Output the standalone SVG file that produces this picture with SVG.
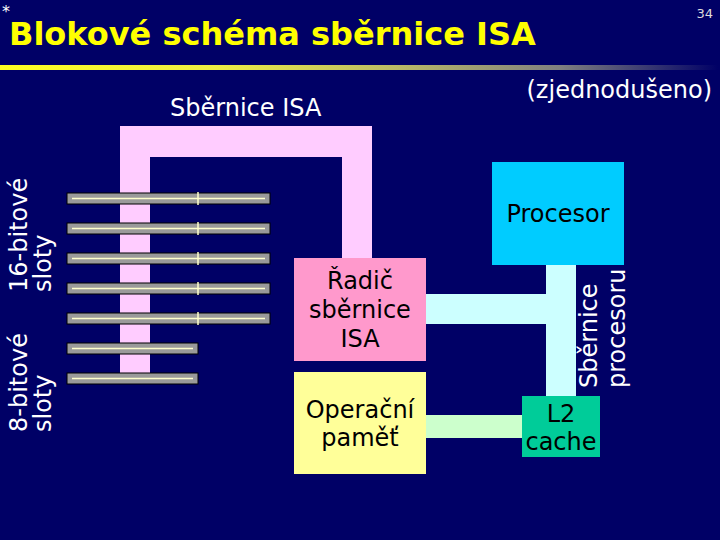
<svg xmlns="http://www.w3.org/2000/svg" width="720" height="540" viewBox="0 0 720 540">
<defs>
<linearGradient id="rule" x1="0" y1="0" x2="1" y2="0">
<stop offset="0" stop-color="#ffff22"/>
<stop offset="0.3" stop-color="#eeee44"/>
<stop offset="0.55" stop-color="#bbbb66"/>
<stop offset="0.78" stop-color="#808080"/>
<stop offset="1" stop-color="#000066"/>
</linearGradient>
</defs>
<style>
text{font-family:"DejaVu Sans",Verdana,sans-serif;}
.w{fill:#ffffff;font-size:24px;}
.b{fill:#000000;font-size:24px;text-anchor:middle;}
.slot{fill:#9a9a9a;stroke:#000000;stroke-width:1;}
.sl{stroke:#ffffcc;stroke-width:1.5;}
</style>
<rect x="0" y="0" width="720" height="540" fill="#000066"/>
<text x="2" y="17" fill="#ffffff" style="font-size:16px">*</text>
<text x="713" y="18" fill="#dddddd" text-anchor="end" style="font-size:13px">34</text>
<text x="9" y="45" fill="#ffff00" style="font-size:32px;font-weight:bold">Blokové schéma sběrnice ISA</text>
<rect x="0" y="65" width="718" height="5" fill="url(#rule)"/>
<text class="w" x="712" y="98" text-anchor="end">(zjednodušeno)</text>
<text class="w" x="170" y="116">Sběrnice ISA</text>

<g id="connectors">
<path d="M120 126 H372 V258 H342 V157 H150 V373 H120 Z" fill="#ffccff"/>
<rect x="546" y="265" width="30" height="131" fill="#ccffff"/>
<rect x="426" y="294" width="120" height="30" fill="#ccffff"/>
<rect x="426" y="415" width="96" height="23" fill="#ccffcc"/>
</g>

<g id="slots16">
<g id="slot1"><rect class="slot" x="67" y="193" width="203" height="11"/><line class="sl" x1="72" y1="198.5" x2="265" y2="198.5"/><line class="sl" x1="198" y1="192" x2="198" y2="205"/></g>
<g id="slot2"><rect class="slot" x="67" y="223" width="203" height="11"/><line class="sl" x1="72" y1="228.5" x2="265" y2="228.5"/><line class="sl" x1="198" y1="222" x2="198" y2="235"/></g>
<g id="slot3"><rect class="slot" x="67" y="253" width="203" height="11"/><line class="sl" x1="72" y1="258.5" x2="265" y2="258.5"/><line class="sl" x1="198" y1="252" x2="198" y2="265"/></g>
<g id="slot4"><rect class="slot" x="67" y="283" width="203" height="11"/><line class="sl" x1="72" y1="288.5" x2="265" y2="288.5"/><line class="sl" x1="198" y1="282" x2="198" y2="295"/></g>
<g id="slot5"><rect class="slot" x="67" y="313" width="203" height="11"/><line class="sl" x1="72" y1="318.5" x2="265" y2="318.5"/><line class="sl" x1="198" y1="312" x2="198" y2="325"/></g>
</g>
<g id="slots8">
<g id="slot6"><rect class="slot" x="67" y="343" width="131" height="11"/><line class="sl" x1="72" y1="348.5" x2="193" y2="348.5"/></g>
<g id="slot7"><rect class="slot" x="67" y="373" width="131" height="11"/><line class="sl" x1="72" y1="378.5" x2="193" y2="378.5"/></g>
</g>

<g id="label16">
<text class="w" transform="translate(27 292) rotate(-90)">16-bitové</text>
<text class="w" transform="translate(51 292) rotate(-90)">sloty</text>
</g>
<g id="label8">
<text class="w" transform="translate(27 432) rotate(-90)">8-bitové</text>
<text class="w" transform="translate(51 432) rotate(-90)">sloty</text>
</g>
<g id="labelCpuBus">
<text class="w" transform="translate(597 388) rotate(-90)">Sběrnice</text>
<text class="w" transform="translate(625 388) rotate(-90)">procesoru</text>
</g>

<g id="radic">
<rect x="294" y="258" width="132" height="103" fill="#ff99cc"/>
<text class="b" x="360" y="289">Řadič</text>
<text class="b" x="360" y="318">sběrnice</text>
<text class="b" x="360" y="347">ISA</text>
</g>
<g id="pamet">
<rect x="294" y="372" width="132" height="102" fill="#ffff99"/>
<text class="b" x="360" y="418">Operační</text>
<text class="b" x="360" y="446">paměť</text>
</g>
<g id="procesor">
<rect x="492" y="162" width="132" height="103" fill="#00ccff"/>
<text class="b" x="558" y="222">Procesor</text>
</g>
<g id="cache">
<rect x="522" y="396" width="78" height="61" fill="#00cc99"/>
<text class="b" x="561" y="422">L2</text>
<text class="b" x="561" y="450">cache</text>
</g>
</svg>
